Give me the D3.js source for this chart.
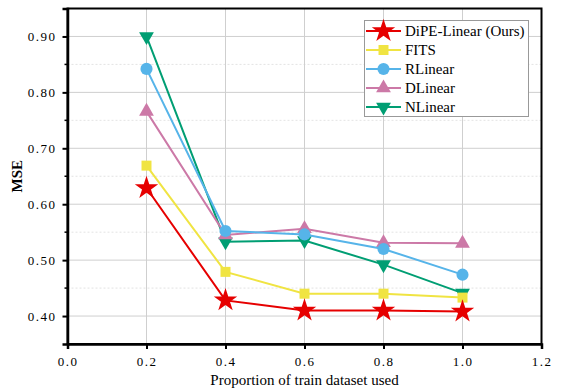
<!DOCTYPE html>
<html><head><meta charset="utf-8">
<script src="https://cdn.jsdelivr.net/npm/d3@7"></script>
<style>body{margin:0;background:#fff}svg{display:block}</style>
</head><body>
<svg id="c" width="562" height="389"></svg>
<script>
const xValues = [0.2, 0.4, 0.6, 0.8, 1.0];
const seriesNames = ["DiPE-Linear (Ours)", "FITS", "RLinear", "DLinear", "NLinear"];
const dipe    = [0.629, 0.428, 0.410, 0.410, 0.408];
const fits    = [0.669, 0.479, 0.440, 0.440, 0.433];
const rlinear = [0.842, 0.552, 0.546, 0.520, 0.474];
const dlinear = [0.766, 0.545, 0.556, 0.531, 0.530];
const nlinear = [0.900, 0.533, 0.535, 0.492, 0.441];
const xTicks = [0.0, 0.2, 0.4, 0.6, 0.8, 1.0, 1.2];
const yTicks = [0.40, 0.50, 0.60, 0.70, 0.80, 0.90];
const yMinor = [0.35, 0.45, 0.55, 0.65, 0.75, 0.85, 0.95];

const colors = ["#e60000", "#f0e442", "#56b4e9", "#cc79a7", "#009e73"];
const markers = ["star", "square", "circle", "triUp", "triDown"];
const allData = [dipe, fits, rlinear, dlinear, nlinear];

const svg = d3.select("#c");
const L = 67.5, R = 541.5, T = 8.5, B = 344;
const x = d3.scaleLinear().domain([0, 1.2]).range([L, R]);
const y = d3.scaleLinear().domain([0.35, 0.95]).range([B, T]);

// grid
const g = svg.append("g");
g.selectAll("line.ym").data(yMinor).join("line")
  .attr("x1", L).attr("x2", R).attr("y1", d => y(d)).attr("y2", d => y(d))
  .attr("stroke", "#dcdcdc").attr("stroke-width", 0.8).attr("stroke-dasharray", "2,2");
g.selectAll("line.yg").data(yTicks).join("line")
  .attr("x1", L).attr("x2", R).attr("y1", d => y(d)).attr("y2", d => y(d))
  .attr("stroke", "#cfcfcf").attr("stroke-width", 1);
g.selectAll("line.xg").data(xTicks.slice(1, -1)).join("line")
  .attr("y1", T).attr("y2", B).attr("x1", d => x(d)).attr("x2", d => x(d))
  .attr("stroke", "#cfcfcf").attr("stroke-width", 1);

// frame
svg.append("rect").attr("x", L).attr("y", T).attr("width", R - L).attr("height", B - T)
  .attr("fill", "none").attr("stroke", "#000").attr("stroke-width", 2);

// axes
const font = "'Liberation Serif', 'Times New Roman', serif";
const xAxis = d3.axisBottom(x).tickValues(xTicks).tickFormat(d3.format(".1f")).tickSize(5).tickPadding(8);
const yAxis = d3.axisLeft(y).tickValues(yTicks).tickFormat(d3.format(".2f")).tickSize(5).tickPadding(6);
const gx = svg.append("g").attr("transform", `translate(0,${B})`).call(xAxis);
const gy = svg.append("g").attr("transform", `translate(${L},0)`).call(yAxis);
[gx, gy].forEach(a => {
  a.attr("font-family", null).attr("font-size", null);
  a.select(".domain").attr("stroke", "#000").attr("stroke-width", 2.5);
  a.selectAll(".tick line").attr("stroke", "#000").attr("stroke-width", 2);
  a.selectAll("text").style("font-family", font).style("font-size", "13px").attr("fill", "#000")
    .style("letter-spacing", "1.5px");
});
// y minor ticks
svg.append("g").selectAll("line").data(yMinor.slice(1, -1)).join("line")
  .attr("x1", L - 3).attr("x2", L).attr("y1", d => y(d)).attr("y2", d => y(d))
  .attr("stroke", "#000").attr("stroke-width", 1.5);

// labels
svg.append("text").attr("x", (L + R) / 2).attr("y", 385).attr("text-anchor", "middle")
  .style("font-family", font).style("font-size", "15px").text("Proportion of train dataset used");
svg.append("text").attr("transform", `translate(22,${(T + B) / 2}) rotate(-90)`)
  .attr("text-anchor", "middle").style("font-family", font).style("font-size", "15px")
  .attr("font-weight", "bold").text("MSE");

// markers
function sym(type) {
  const m = {star: [d3.symbolStar, 170], square: [d3.symbolSquare, 100], circle: [d3.symbolCircle, 115],
             triUp: [d3.symbolTriangle, 95], triDown: [d3.symbolTriangle, 95]};
  return d3.symbol().type(m[type][0]).size(m[type][1])();
}
function markerTransform(type, cx, cy) {
  return type === "triDown" ? `translate(${cx},${cy}) rotate(180)` : `translate(${cx},${cy})`;
}

const line = d3.line().x((d, i) => x(xValues[i])).y(d => y(d));
for (let k = allData.length - 1; k >= 0; k--) {
  const s = svg.append("g");
  s.append("path").attr("d", line(allData[k])).attr("fill", "none")
    .attr("stroke", colors[k]).attr("stroke-width", 2);
  s.selectAll("path.m").data(allData[k]).join("path").attr("class", "m")
    .attr("d", sym(markers[k]))
    .attr("transform", (d, i) => markerTransform(markers[k], x(xValues[i]), y(d)))
    .attr("fill", colors[k]);
}

// legend
const lg = svg.append("g");
lg.append("rect").attr("x", 364.5).attr("y", 20.5).attr("width", 164).attr("height", 96)
  .attr("fill", "#fff").attr("stroke", "#999").attr("stroke-width", 1);
seriesNames.forEach((name, k) => {
  const yy = 31 + k * 19;
  lg.append("line").attr("x1", 366).attr("x2", 401).attr("y1", yy).attr("y2", yy)
    .attr("stroke", colors[k]).attr("stroke-width", 2);
  lg.append("path").attr("d", sym(markers[k])).attr("transform", markerTransform(markers[k], 383.5, yy))
    .attr("fill", colors[k]);
  lg.append("text").attr("x", 405).attr("y", yy + 5).style("font-family", font)
    .style("font-size", "15px").text(name);
});
</script>
</body></html>
